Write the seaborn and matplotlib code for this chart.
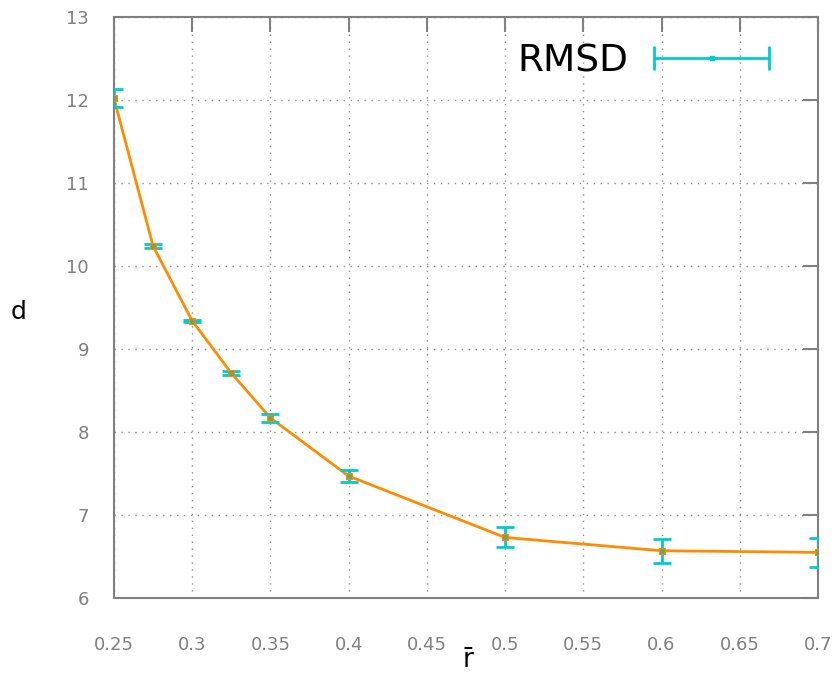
import numpy as np
import pandas as pd
import matplotlib
matplotlib.use("Agg")
import matplotlib.pyplot as plt
from matplotlib.legend_handler import HandlerErrorbar
import seaborn as sns

# data
r_bar = [0.25, 0.275, 0.3, 0.325, 0.35, 0.4, 0.5, 0.6, 0.7]
d_vals = [12.02, 10.24, 9.34, 8.71, 8.17, 7.47, 6.73, 6.57, 6.55]
d_err = [0.11, 0.02, 0.015, 0.025, 0.05, 0.07, 0.12, 0.145, 0.17]

xticks = [0.25, 0.3, 0.35, 0.4, 0.45, 0.5, 0.55, 0.6, 0.65, 0.7]
xtick_labels = ["0.25", "0.3", "0.35", "0.4", "0.45", "0.5", "0.55", "0.6", "0.65", "0.7"]
yticks = [6, 7, 8, 9, 10, 11, 12, 13]

df = pd.DataFrame({"r": r_bar, "d": d_vals, "err": d_err})

sns.set_style("white")
plt.rcParams['font.family'] = ['DejaVu Sans']

fig = plt.figure(figsize=(8.35, 6.75), dpi=100)
ax = fig.add_axes([0.1365, 0.114, 0.8431, 0.8608])

cyan = "#00cccc"
orange = "#ff8c00"
grey = "#808080"

# line
sns.lineplot(data=df, x="r", y="d", color=orange, linewidth=2, ax=ax, zorder=3)

# error bars
ax.errorbar(df["r"], df["d"], yerr=df["err"], fmt="none", ecolor=cyan,
            elinewidth=2, capsize=6.5, capthick=2, zorder=4)
ax.scatter(df["r"], df["d"], marker="s", s=20, color="#7aa060",
           edgecolor=orange, linewidth=0.8, zorder=5)

# legend proxy: horizontal errorbar like the gnuplot key
hlen = 3.07
proxy = ax.errorbar([np.nan], [np.nan], xerr=[0.01], fmt="s", linestyle="none",
                    color=cyan, ecolor=cyan, elinewidth=2, capsize=8.5,
                    capthick=2, markersize=3)
ax.legend([proxy], ["RMSD"], loc="upper right", markerfirst=False, frameon=False,
          fontsize=27, labelcolor="black", handlelength=hlen, handletextpad=0.69,
          borderaxespad=0, bbox_to_anchor=(0.952, 0.981),
          handler_map={type(proxy): HandlerErrorbar(xerr_size=hlen / 2)})

ax.set_xlim(0.25, 0.7)
ax.set_ylim(6, 13)
ax.set_xticks(xticks)
ax.set_xticklabels(xtick_labels)
ax.set_yticks(yticks)

ax.grid(True, linestyle=(0, (1, 4)), color="#909090", linewidth=1.0)

for sp in ax.spines.values():
    sp.set_color(grey)
    sp.set_linewidth(1.5)

ax.tick_params(axis="both", which="both", direction="in", length=11, width=1.5,
               color=grey, labelcolor=grey, labelsize=13, top=True, right=True)
ax.tick_params(axis="x", pad=27)
ax.tick_params(axis="y", pad=18)

ax.set_xlabel("r\u0304", fontsize=19, color="black")
ax.xaxis.label.set_va("baseline")
ax.xaxis.set_label_coords(0.504, -0.118)
ax.set_ylabel("d", fontsize=18, color="black", rotation=0, va="center", ha="center")
ax.yaxis.set_label_coords(-0.136, 0.492)

fig.savefig("out.png", dpi=100)
